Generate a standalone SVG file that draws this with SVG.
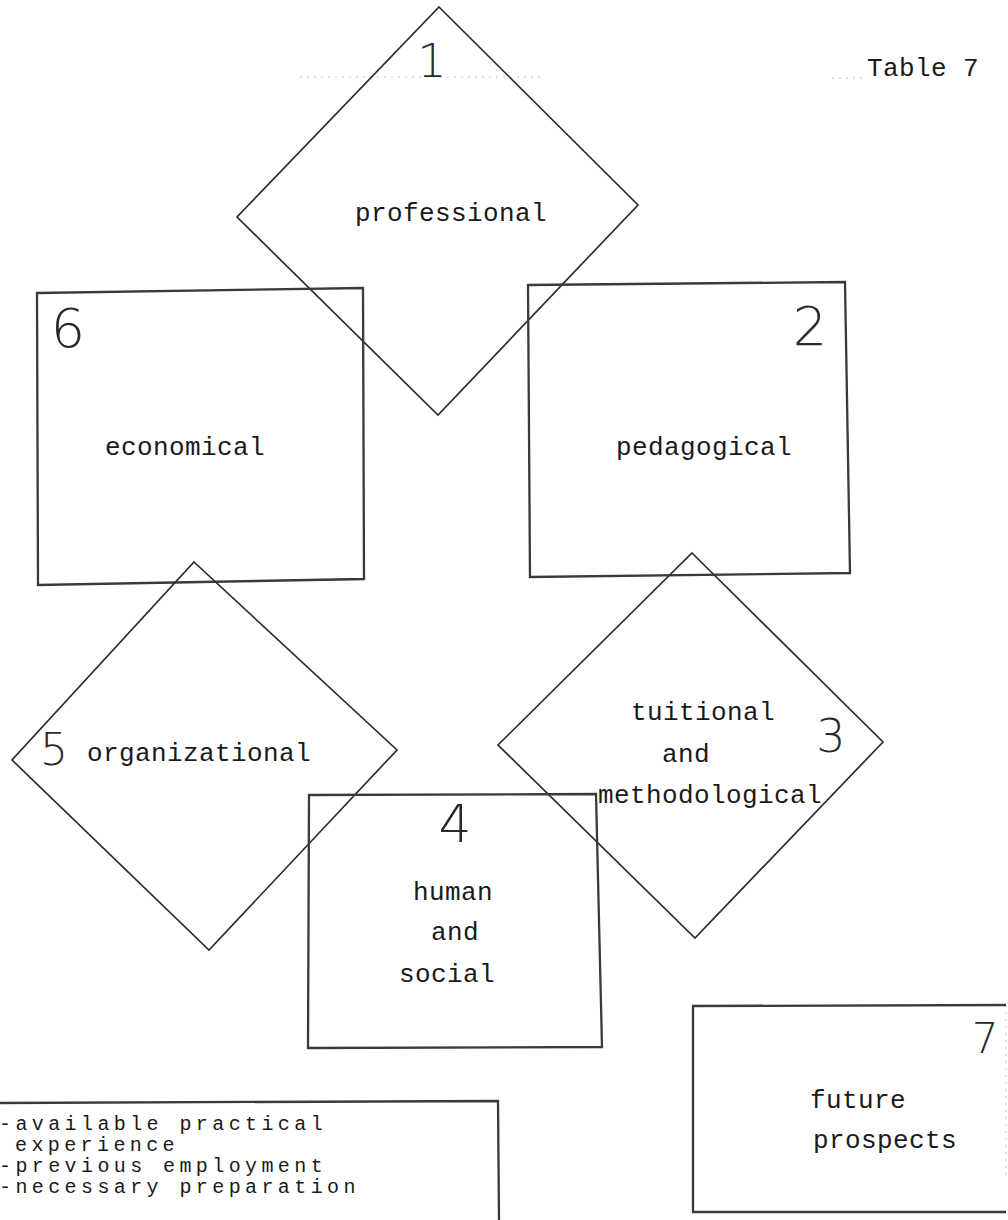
<svg xmlns="http://www.w3.org/2000/svg" width="1008" height="1220" viewBox="0 0 1008 1220">
  <style>
    .diamond { fill: none; stroke: #2e2e2e; stroke-width: 1.7; stroke-linejoin: miter; }
    .box { fill: none; stroke: #3a3a3a; stroke-width: 2.3; stroke-linejoin: miter; }
    .faint { fill: none; stroke: #c4c4c4; stroke-width: 1; stroke-dasharray: 2 5; }
    .label { font-family: "Liberation Mono", "Courier New", monospace; font-size: 26px; letter-spacing: 0.4px; fill: #1a1a1a; text-anchor: middle; }
    .list { font-family: "Liberation Mono", "Courier New", monospace; font-size: 20px; letter-spacing: 4.4px; fill: #1a1a1a; }
    .num { font-family: "DejaVu Sans", "Liberation Sans", sans-serif; font-weight: 200; fill: #2a2a2a; text-anchor: middle; }
  </style>

  <rect width="1008" height="1220" fill="#ffffff"/>

  <!-- light ruling left on the sheet -->
  <line class="faint" x1="300" y1="77" x2="545" y2="77"/>
  <line class="faint" x1="832" y1="78" x2="862" y2="78"/>
  <line class="faint" x1="1006" y1="1005" x2="1006" y2="1180"/>

  <!-- Table caption -->
  <text id="caption" class="label" x="923" y="76">Table 7</text>

  <!-- 1 professional -->
  <g id="node-professional">
    <polygon class="diamond" points="439,7 638,205 438,415 237,217"/>
    <text class="num" x="432" y="77" font-size="46">1</text>
    <text class="label" x="451" y="221">professional</text>
  </g>

  <!-- 6 economical -->
  <g id="node-economical">
    <polygon class="box" points="37,293 363,288 364,579 38,585"/>
    <text class="num" x="68" y="347" font-size="54">6</text>
    <text class="label" x="185" y="455">economical</text>
  </g>

  <!-- 2 pedagogical -->
  <g id="node-pedagogical">
    <polygon class="box" points="528,285 845,282 850,573 530,577"/>
    <text class="num" x="810" y="345" font-size="54">2</text>
    <text class="label" x="704" y="455">pedagogical</text>
  </g>

  <!-- 5 organizational -->
  <g id="node-organizational">
    <polygon class="diamond" points="194,562 397,750 209,950 12,760"/>
    <text class="num" x="54" y="765" font-size="44">5</text>
    <text class="label" x="199" y="761">organizational</text>
  </g>

  <!-- 3 tuitional and methodological -->
  <g id="node-tuitional">
    <polygon class="diamond" points="692,553 883,742 695,938 498,745"/>
    <text class="num" x="831" y="752" font-size="46">3</text>
    <text class="label" x="703" y="720">tuitional</text>
    <text class="label" x="686" y="762">and</text>
    <text class="label" x="710" y="803">methodological</text>
  </g>

  <!-- 4 human and social -->
  <g id="node-human-social">
    <polygon class="box" points="309,795 596,794 602,1047 308,1048"/>
    <text class="num" x="455" y="842" font-size="52">4</text>
    <text class="label" x="453" y="900">human</text>
    <text class="label" x="455" y="940">and</text>
    <text class="label" x="447" y="982">social</text>
  </g>

  <!-- 7 future prospects -->
  <g id="node-future">
    <polyline class="box" points="1006,1005 693,1006 693,1212 1006,1212"/>
    <text class="num" x="985" y="1053" font-size="42">7</text>
    <text class="label" x="858" y="1108">future</text>
    <text class="label" x="885" y="1148">prospects</text>
  </g>

  <!-- list of conditions, running off the sheet -->
  <g id="node-conditions">
    <polyline class="box" points="0,1103 498,1101 499,1220"/>
    <text class="list" x="-1" y="1130">-available practical</text>
    <text class="list" x="15" y="1151">experience</text>
    <text class="list" x="-1" y="1172">-previous employment</text>
    <text class="list" x="-1" y="1193">-necessary preparation</text>
  </g>
</svg>
